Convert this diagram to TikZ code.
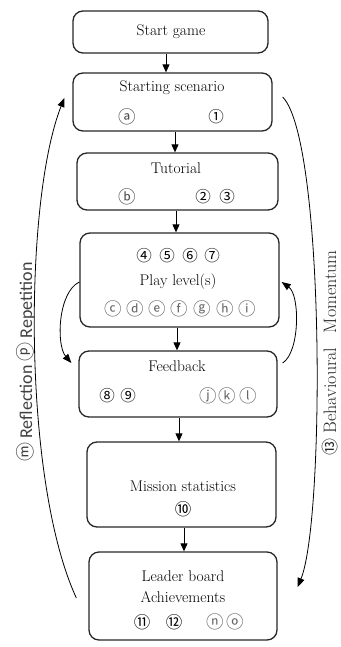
\documentclass[tikz,border=0pt]{standalone}
\usepackage{fontspec}
\newfontfamily\cfont{Noto Sans CJK SC}
\newfontfamily\sidefont{Carlito}
\usetikzlibrary{arrows.meta}
\tikzset{
  box/.style={draw=black!85, line width=1.3pt, rounded corners=10pt, inner sep=0pt},
  arr/.style={-{Triangle[length=8pt,width=7pt]}, line width=0.9pt},
  curvearr/.style={line width=0.8pt, -{Triangle[length=9pt,width=7pt]}},
  lab/.style={font=\fontsize{15.5}{18}\selectfont, inner sep=0pt, text=black},
  cg/.style={font=\cfont\fontsize{15.5}{15.5}\selectfont, inner sep=0pt, text=black},
  cl/.style={font=\cfont\fontsize{17.5}{17.5}\selectfont, inner sep=0pt, text=black!60},
  cb/.style={font=\cfont\fontsize{16.5}{16.5}\selectfont, inner sep=0pt, text=black},
}
\begin{document}
\begin{tikzpicture}[x=1pt,y=-1pt]
\useasboundingbox (0,0) rectangle (340,647);
% boxes
\node[box, minimum width=195pt, minimum height=42pt] (b1) at (170.5,32) {};
\node[box, minimum width=199pt, minimum height=58pt] (b2) at (172.5,102) {};
\node[box, minimum width=201pt, minimum height=57pt] (b3) at (177.5,181.5) {};
\node[box, minimum width=199pt, minimum height=94pt] (b4) at (179.5,280) {};
\node[box, minimum width=198pt, minimum height=66pt] (b5) at (178,384) {};
\node[box, minimum width=189pt, minimum height=85pt] (b6) at (181.5,484.5) {};
\node[box, minimum width=188pt, minimum height=88pt] (b7) at (183,596) {};
% texts
\node[lab] (t1) at (171,32) {Start game};
\node[lab] (t2) at (172,88) {Starting scenario};
\node[cl, text=black!70] (ca) at (127,117) {ⓐ};
\node[cg] (n1) at (216,117) {①};
\node[lab] (t3) at (176,168) {Tutorial};
\node[cl, text=black!70] (cbb) at (127,197) {ⓑ};
\node[cg] (n2) at (203,197) {②};
\node[cg] (n3) at (227,197) {③};
\node[cg] (n4) at (144,256) {④};
\node[cg] (n5) at (167,256) {⑤};
\node[cg] (n6) at (190,256) {⑥};
\node[cg] (n7) at (212,256) {⑦};
\node[lab] (t4) at (178,282) {Play level(s)};
\node[cl] (cc) at (113,309) {ⓒ};
\node[cl] (cd) at (135,309) {ⓓ};
\node[cl] (ce) at (157,309) {ⓔ};
\node[cl] (cf) at (179,309) {ⓕ};
\node[cl] (cgg) at (202,309) {ⓖ};
\node[cl] (ch) at (225,309) {ⓗ};
\node[cl] (ci) at (247,309) {ⓘ};
\node[lab] (t5) at (177,366) {Feedback};
\node[cg] (n8) at (107,396) {⑧};
\node[cg] (n9) at (128,396) {⑨};
\node[cl] (cj) at (208,396) {ⓙ};
\node[cl] (ck) at (227,396) {ⓚ};
\node[cl] (cll) at (248,396) {ⓛ};
\node[lab] (t6) at (183,486) {Mission statistics};
\node[cb] (n10) at (183,509) {⑩};
\node[lab] (t7) at (183,576) {Leader board};
\node[lab] (t8) at (183,597) {Achievements};
\node[cb] (n11) at (142,622) {⑪};
\node[cb] (n12) at (174,622) {⑫};
\node[cl] (cn) at (215,622) {ⓝ};
\node[cl] (co) at (235,622) {ⓞ};
% vertical arrows
\path (b1.south) ++(-4.5,0) coordinate (a1);
\path (b2.south) ++(2.5,0) coordinate (a2);
\path (b3.south) ++(-1.5,0) coordinate (a3);
\path (b4.south) ++(-2.5,0) coordinate (a4);
\path (b5.south) ++(1,0) coordinate (a5);
\path (b6.south) ++(2.5,0) coordinate (a6);
\draw[arr] (a1) -- (a1 |- b2.north);
\draw[arr] (a2) -- (a2 |- b3.north);
\draw[arr] (a3) -- (a3 |- b4.north);
\draw[arr] (a4) -- (a4 |- b5.north);
\draw[arr] (a5) -- (a5 |- b6.north);
\draw[arr] (a6) -- (a6 |- b7.north);
% loops between play and feedback
\path (b4.west) ++(0,2) coordinate (lp1);
\path (b5.west) ++(-7,-21) coordinate (lp2);
\draw[curvearr] (lp1) .. controls (58,292) and (56,345) .. (lp2);
\path (b5.east) ++(5,-21) coordinate (rp1);
\path (b4.east) ++(2,2) coordinate (rp2);
\draw[curvearr] (rp1) .. controls (300,352) and (300,295) .. (rp2);
% big curves
\path (b7.west) ++(-12,2) coordinate (bl1);
\path (b2.west) ++(-8,-4) coordinate (bl2);
\draw[curvearr] (bl1) .. controls (22,480) and (24,200) .. (bl2);
\path (b2.east) ++(10,-5) coordinate (br1);
\path (b7.east) ++(20,-9) coordinate (br2);
\draw[curvearr] (br1) .. controls (325,140) and (325,520) .. (br2);
% side labels
\node[rotate=90, anchor=base, inner sep=0pt, text=black!75, font=\sidefont\fontsize{18}{18}\selectfont] (ls) at (32,362) {{\cfont\fontsize{19}{19}\selectfont ⓜ} Reflection {\cfont\fontsize{19}{19}\selectfont ⓟ} Repetition};
\node[rotate=90, anchor=base, inner sep=0pt, text=black!85, font=\fontsize{18}{18}\selectfont] (rs) at (336,353) {{\cfont\fontsize{17}{17}\selectfont ⑬} Behavioural\hspace{0.5em} Momentum};
\end{tikzpicture}
\end{document}
